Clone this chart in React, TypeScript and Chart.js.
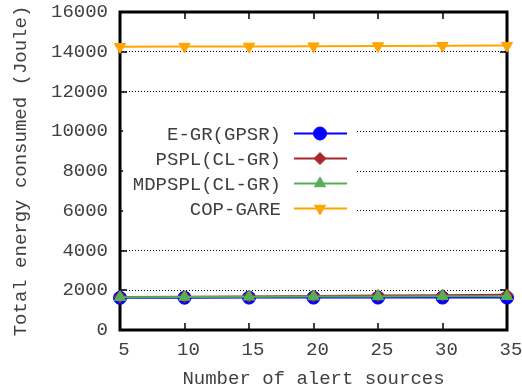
import React, { useEffect, useRef } from 'react';
import { Chart, registerables } from 'chart.js';

Chart.register(...registerables);

const xValues = [5, 10, 15, 20, 25, 30, 35];
const seriesLabels = ['E-GR(GPSR)', 'PSPL(CL-GR)', 'MDPSPL(CL-GR)', 'COP-GARE'];
const egrValues = [1620, 1625, 1630, 1630, 1630, 1630, 1630];
const psplValues = [1660, 1670, 1690, 1710, 1730, 1750, 1770];
const mdpsplValues = [1650, 1660, 1670, 1680, 1690, 1700, 1700];
const copValues = [14250, 14260, 14270, 14280, 14290, 14300, 14310];
const yTicks = [0, 2000, 4000, 6000, 8000, 10000, 12000, 14000, 16000];
const xTitle = 'Number of alert sources';
const yTitle = 'Total energy consumed (Joule)';

const FONT = '"Liberation Mono", "DejaVu Sans Mono", monospace';
const TEXT = '#404040';

function drawMarker(ctx: CanvasRenderingContext2D, style: string, rot: number, x: number, y: number, r: number, color: string) {
  ctx.save();
  ctx.fillStyle = color;
  ctx.strokeStyle = color;
  ctx.lineWidth = 1;
  ctx.beginPath();
  if (style === 'circle') {
    ctx.arc(x, y, r, 0, Math.PI * 2);
  } else if (style === 'rectRot') {
    ctx.moveTo(x - r, y);
    ctx.lineTo(x, y - r);
    ctx.lineTo(x + r, y);
    ctx.lineTo(x, y + r);
    ctx.closePath();
  } else if (style === 'triangle') {
    const base = (rot * Math.PI) / 180;
    for (let k = 0; k < 3; k++) {
      const a = base + (k * 2 * Math.PI) / 3;
      const px = x + Math.sin(a) * r;
      const py = y - Math.cos(a) * r;
      if (k === 0) ctx.moveTo(px, py);
      else ctx.lineTo(px, py);
    }
    ctx.closePath();
  }
  ctx.fill();
  ctx.stroke();
  ctx.restore();
}

const framePlugin = {
  id: 'frame',
  beforeDatasetsDraw(chart: any) {
    const { ctx, chartArea } = chart;
    const { left, right, top, bottom } = chartArea;
    const xs = chart.scales.x;
    const ys = chart.scales.y;
    ctx.save();
    ctx.strokeStyle = '#000';
    ctx.lineWidth = 1.5;
    const tl = 7;
    ctx.beginPath();
    for (const v of yTicks) {
      const py = Math.round(ys.getPixelForValue(v));
      if (v === 0 || v === 16000) continue;
      ctx.moveTo(left, py);
      ctx.lineTo(left + tl, py);
      ctx.moveTo(right, py);
      ctx.lineTo(right - tl, py);
    }
    for (const v of xValues) {
      if (v === 5 || v === 35) continue;
      const px = Math.round(xs.getPixelForValue(v));
      ctx.moveTo(px, bottom);
      ctx.lineTo(px, bottom - tl);
      ctx.moveTo(px, top);
      ctx.lineTo(px, top + tl);
    }
    ctx.stroke();
    ctx.lineWidth = 3;
    ctx.strokeRect(left, top, right - left, bottom - top);
    ctx.restore();
  },
  afterDatasetsDraw(chart: any) {
    const { ctx } = chart;
    ctx.save();
    ctx.fillStyle = '#fff';
    ctx.fillRect(123, 117, 234, 108);
    ctx.font = '19px ' + FONT;
    ctx.textAlign = 'right';
    ctx.textBaseline = 'middle';
    chart.data.datasets.forEach((ds: any, i: number) => {
      const y = 133.5 + i * 25;
      ctx.fillStyle = TEXT;
      ctx.fillText(ds.label, 281, y + 1);
      ctx.strokeStyle = ds.borderColor;
      ctx.lineWidth = 2;
      ctx.beginPath();
      ctx.moveTo(294, y);
      ctx.lineTo(347, y);
      ctx.stroke();
      drawMarker(ctx, ds.pointStyle, ds.pointRotation || 0, 320, y, ds.pointRadius, ds.borderColor);
    });
    ctx.restore();
  },
};

export default function App() {
  const ref = useRef<HTMLCanvasElement>(null);
  useEffect(() => {
    const mk = (vals: number[]) => vals.map((v, i) => ({ x: xValues[i], y: v }));
    const chart = new Chart(ref.current!, {
      type: 'line',
      data: {
        datasets: [
          { label: seriesLabels[0], order: 3, data: mk(egrValues), borderColor: '#0000ff', backgroundColor: '#0000ff', pointStyle: 'circle', pointRadius: 6.5, borderWidth: 2, pointBorderWidth: 1, clip: false } as any,
          { label: seriesLabels[1], order: 2, data: mk(psplValues), borderColor: '#a8262a', backgroundColor: '#a8262a', pointStyle: 'rectRot', pointRadius: 6, borderWidth: 2, pointBorderWidth: 1, clip: false } as any,
          { label: seriesLabels[2], order: 1, data: mk(mdpsplValues), borderColor: '#55b055', backgroundColor: '#55b055', pointStyle: 'triangle', pointRadius: 6.5, borderWidth: 2, pointBorderWidth: 1, clip: false } as any,
          { label: seriesLabels[3], order: 0, data: mk(copValues), borderColor: '#ffa500', backgroundColor: '#ffa500', pointStyle: 'triangle', pointRotation: 180, rotation: 180, pointRadius: 6.5, borderWidth: 2, pointBorderWidth: 1, clip: false } as any,
        ],
      },
      options: {
        animation: false,
        responsive: false,
        devicePixelRatio: 1,
        layout: { padding: { top: 12, right: 15, left: 0, bottom: 0 } },
        plugins: { legend: { display: false }, tooltip: { enabled: false } },
        scales: {
          x: {
            type: 'linear',
            min: 5,
            max: 35,
            afterBuildTicks: (s: any) => { s.ticks = xValues.map((v) => ({ value: v })); },
            grid: { display: false, drawTicks: false },
            border: { display: false },
            ticks: { color: TEXT, font: { family: FONT, size: 19 }, padding: 9, labelOffset: 4, maxRotation: 0, autoSkip: false, callback: (v: any) => String(v) },
            title: { display: true, text: xTitle, color: TEXT, font: { family: FONT, size: 19, lineHeight: 1 }, padding: { top: 0, bottom: 1 } },
            afterFit: (s: any) => { s.height = 59; s.paddingLeft = 0; s.paddingRight = 0; },
          },
          y: {
            type: 'linear',
            min: 0,
            max: 16000,
            afterBuildTicks: (s: any) => { s.ticks = yTicks.map((v) => ({ value: v })); },
            grid: {
              drawTicks: false,
              lineWidth: 1,
              color: (c: any) => (c.tick && (c.tick.value === 0 || c.tick.value === 16000) ? 'rgba(0,0,0,0)' : '#000'),
            },
            border: { display: false, dash: [1, 2] },
            ticks: { color: TEXT, font: { family: FONT, size: 19 }, padding: 12, autoSkip: false, callback: (v: any) => String(v) },
            title: { display: true, text: yTitle, color: TEXT, font: { family: FONT, size: 19, lineHeight: 1 }, padding: { top: 11, bottom: 0 } },
            afterFit: (s: any) => { s.width = 120; s.paddingTop = 0; s.paddingBottom = 0; },
          },
        },
      },
      plugins: [framePlugin],
    });
    return () => chart.destroy();
  }, []);
  return (
    <div style={{ position: 'absolute', left: 0, top: 0, width: 522, height: 389, background: '#fff' }}>
      <canvas ref={ref} width={522} height={389} />
    </div>
  );
}
